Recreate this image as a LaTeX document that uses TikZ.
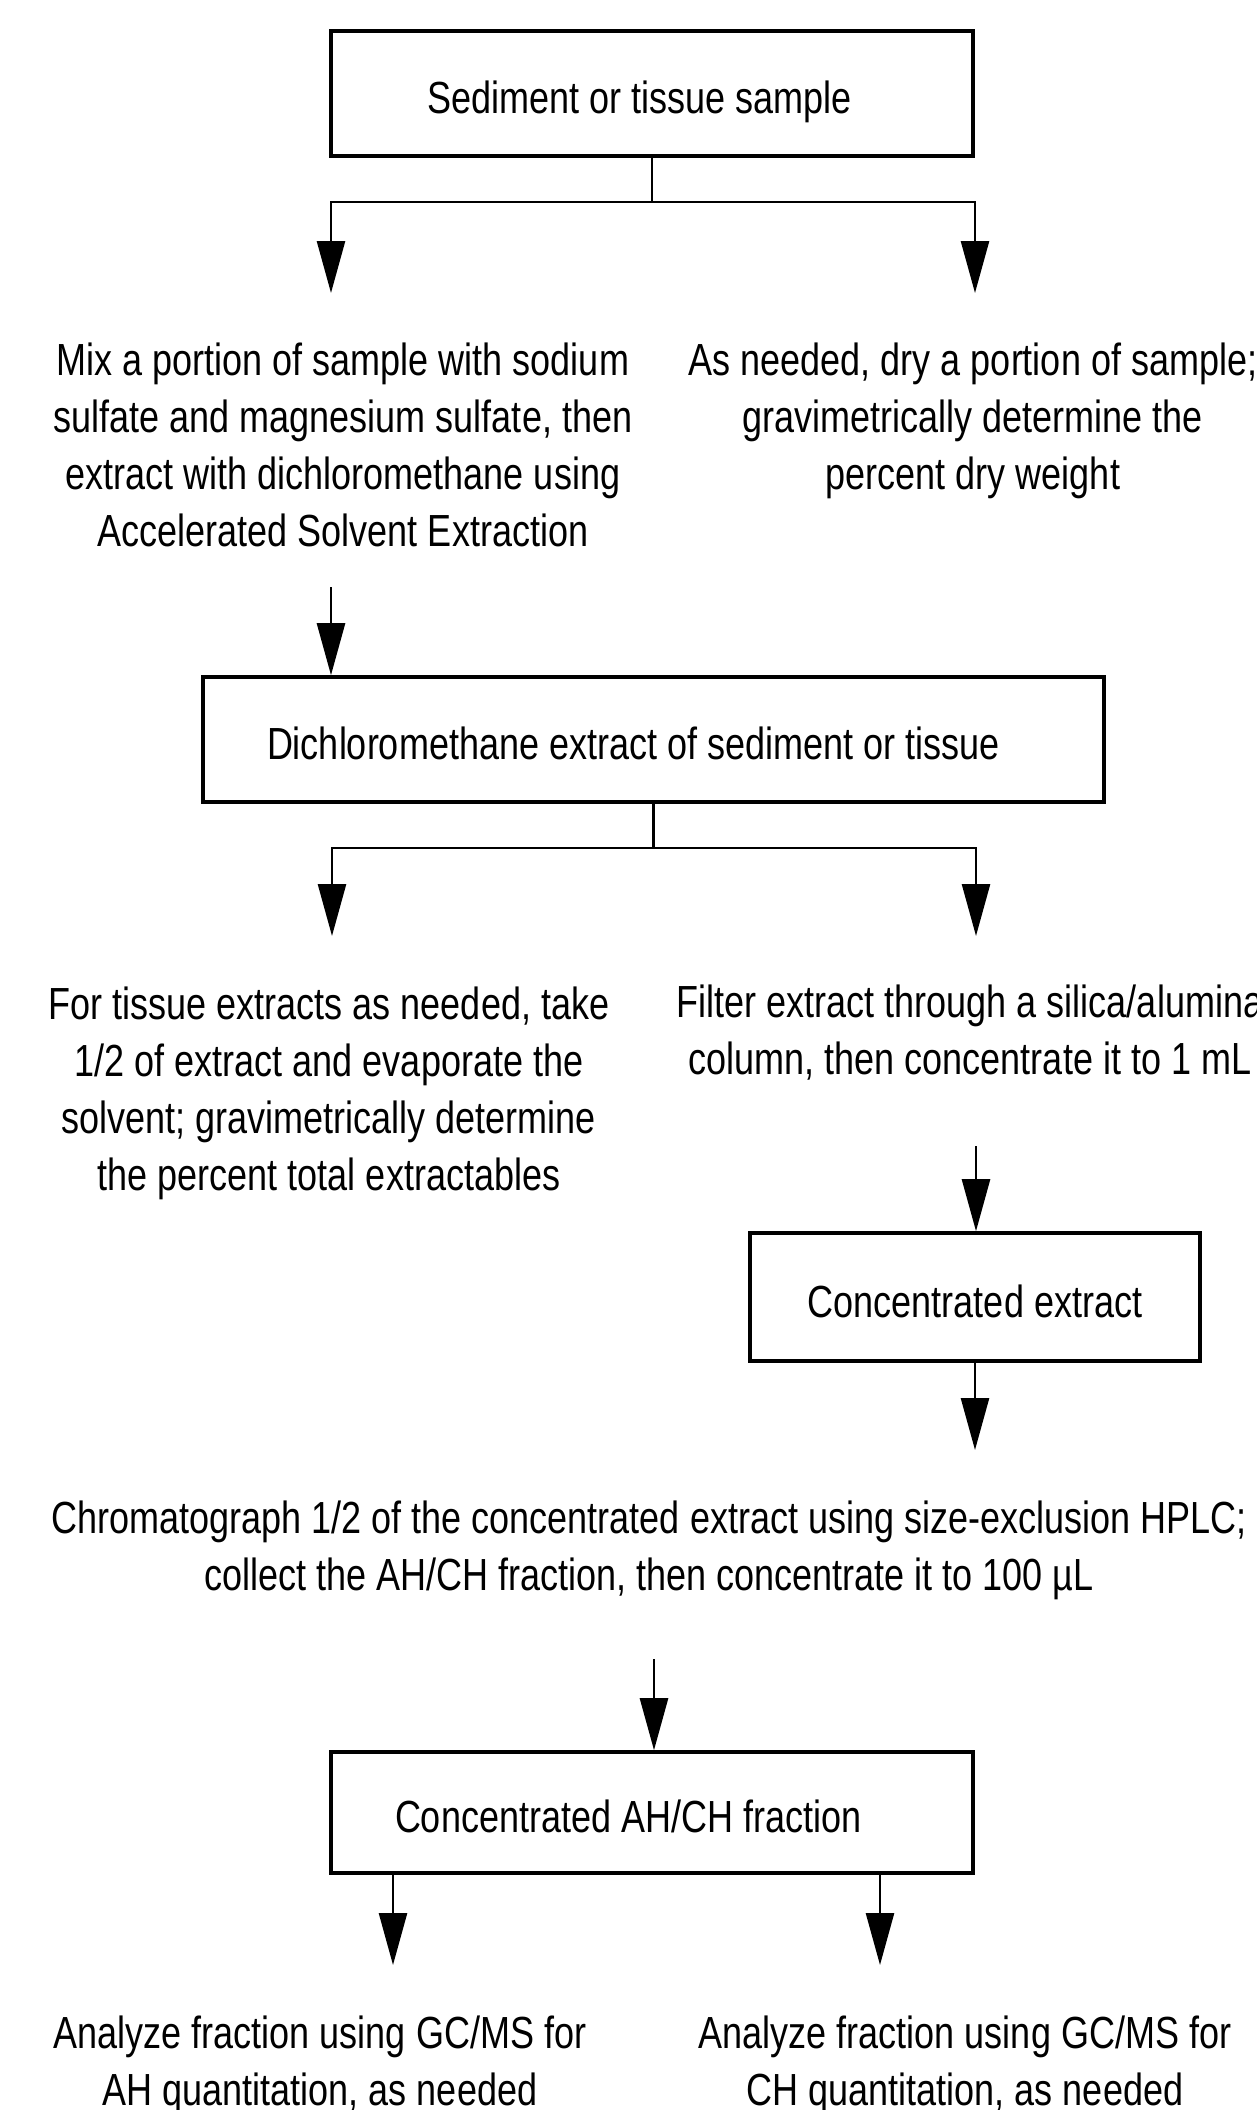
\documentclass[tikz,border=0pt]{standalone}
\usepackage{fontspec}
\setmainfont{Liberation Sans}[FakeStretch=0.8]
\usetikzlibrary{arrows.meta}
\begin{document}
\begin{tikzpicture}[x=0.5pt,y=-0.5pt,
  txt/.style={font=\fontsize{22.5pt}{28.5pt}\selectfont, align=center, inner sep=0pt, anchor=base},
  box/.style={draw, line width=1.8pt, font=\fontsize{22.5pt}{28.5pt}\selectfont, inner ysep=0pt, text height=24.5pt, text depth=4.5pt},
  conn/.style={line width=1.3pt},
  arr/.style={conn, -{Triangle[length=26pt,width=14pt]}}]
\useasboundingbox (0,0) rectangle (1257,2110);
\clip (0,0) rectangle (1257,2110);
\fill[white] (0,0) rectangle (1257,2110);

% boxes
\node[box, minimum width=321pt, minimum height=62.5pt, inner xsep=48pt, text width=225pt, align=flush left] (b1) at (652,93.5) {Sediment or tissue sample};
\node[box, minimum width=450.5pt, minimum height=62.5pt, inner xsep=32pt, text width=386.5pt, align=flush left] (b2) at (653.5,739.5) {Dichloromethane extract of sediment or tissue};
\node[box, minimum width=225pt, minimum height=64pt, inner xsep=0pt, align=center] (b3) at (975,1297) {Concentrated extract};
\node[box, minimum width=321pt, minimum height=60.5pt, inner xsep=32pt, text width=257pt, align=flush left] (b4) at (652,1812.5) {Concentrated AH/CH fraction};

% text steps (anchored at the baseline of the last line)
\node[txt] (nA) at (343,546) {Mix a portion of sample with sodium\\sulfate and magnesium sulfate, then\\extract with dichloromethane using\\Accelerated Solvent Extraction};
\node[txt] (nB) at (973,489) {As needed, dry a portion of sample;\\gravimetrically determine the\\percent dry weight};
\node[txt] (nC) at (329,1190) {For tissue extracts as needed, take\\1/2 of extract and evaporate the\\solvent; gravimetrically determine\\the percent total extractables};
\node[txt] (nD) at (970,1074) {Filter extract through a silica/alumina\\column, then concentrate it to 1 mL};
\node[txt] (nE) at (649,1590) {Chromatograph 1/2 of the concentrated extract using size-exclusion HPLC;\\collect the AH/CH fraction, then concentrate it to 100 µL};
\node[txt] (nF) at (320,2105) {Analyze fraction using GC/MS for\\AH quantitation, as needed};
\node[txt] (nG) at (965,2105) {Analyze fraction using GC/MS for\\CH quantitation, as needed};

% connector points
\coordinate (j1) at (652,202);
\coordinate (pA) at (331,293);
\coordinate (pB) at (975,293);
\coordinate (qA) at (331,587);
\coordinate (j2) at (653.5,848);
\coordinate (pC) at (332,936);
\coordinate (pD) at (976,936);
\coordinate (qD) at (976,1146);
\coordinate (pE) at (975,1450);
\coordinate (qE) at (654,1659);
\coordinate (pF) at (393,1965);
\coordinate (pG) at (880,1965);

% connectors
\draw[conn] (b1.south) -- (j1);
\draw[arr] (j1) -| (pA);
\draw[arr] (j1) -| (pB);
\draw[arr] (qA) -- (qA |- b2.north);
\draw[conn] (b2.south) -- (j2);
\draw[arr] (j2) -| (pC);
\draw[arr] (j2) -| (pD);
\draw[arr] (qD) -- (qD |- b3.north);
\draw[arr] (b3.south) -- (pE);
\draw[arr] (qE) -- (qE |- b4.north);
\draw[arr] (b4.south -| pF) -- (pF);
\draw[arr] (b4.south -| pG) -- (pG);
\end{tikzpicture}
\end{document}
